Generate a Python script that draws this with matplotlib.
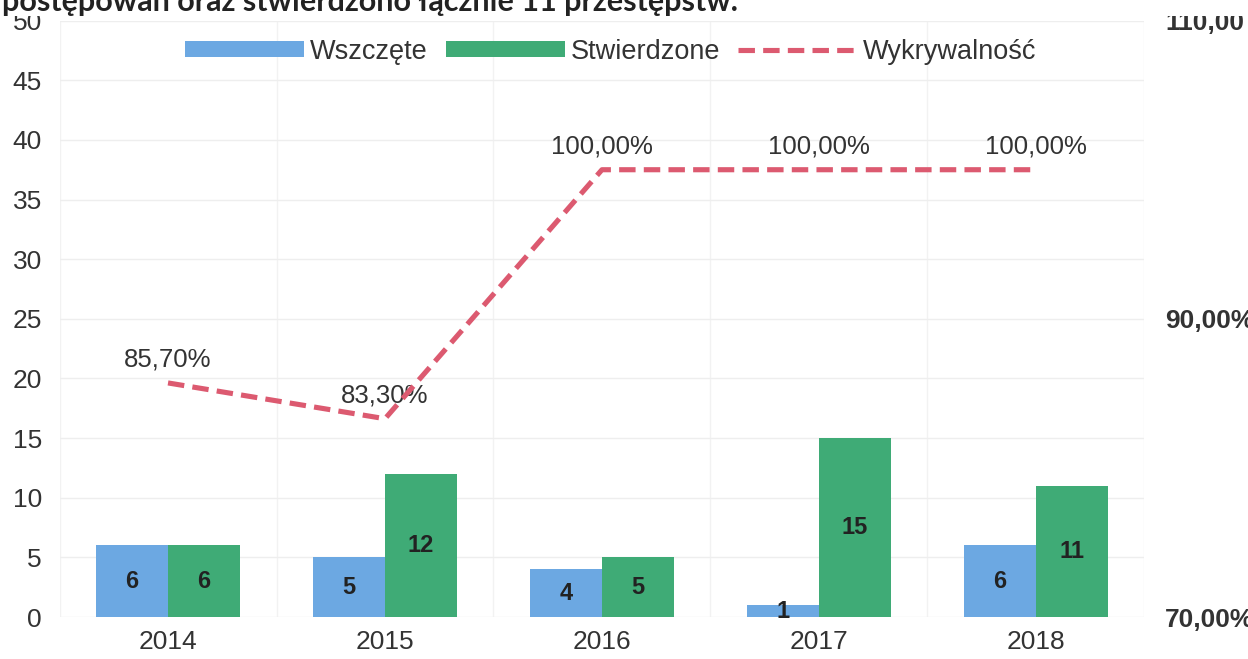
import numpy as np
import matplotlib.pyplot as plt
from matplotlib.patches import Rectangle

years = ['2014', '2015', '2016', '2017', '2018']
wszczete = [6, 5, 4, 1, 6]
stwierdzone = [6, 12, 5, 15, 11]
wykrywalnosc = [85.7, 83.3, 100.0, 100.0, 100.0]
wyk_labels = ['85,70%', '83,30%', '100,00%', '100,00%', '100,00%']
right_ticks = [70, 90, 110]
right_labels = ['70,00%', '90,00%', '110,00']
title_text = 'postępowań oraz stwierdzono łącznie 11 przestępstw.'

blue = '#6ca8e2'
green = '#3fab76'
red = '#dc5a70'
txt = '#333333'

plt.rcParams['font.family'] = ['Liberation Sans', 'DejaVu Sans']

fig = plt.figure(figsize=(12.48, 6.59), dpi=100)
ax = fig.add_axes([0.0477, 0.0637, 0.8693, 0.905])
x = np.arange(len(years))
w = 0.332

b1 = ax.bar(x - w / 2, wszczete, w, color=blue, label='Wszczęte', zorder=2)
b2 = ax.bar(x + w / 2, stwierdzone, w, color=green, label='Stwierdzone', zorder=2)
for bars, vals in ((b1, wszczete), (b2, stwierdzone)):
    for r, v in zip(bars, vals):
        ax.text(r.get_x() + r.get_width() / 2, v / 2, str(v), ha='center', va='center',
                fontsize=17, fontweight='bold', color='#222222', zorder=3)

ax.set_xlim(-0.5, len(years) - 0.5)
ax.set_ylim(0, 50)
ax.set_yticks(np.arange(0, 51, 5))
ax.set_xticks(x)
ax.set_xticklabels(years)
ax.tick_params(axis='both', length=0, labelsize=19, labelcolor=txt)
ax.tick_params(axis='y', pad=12.6)
ax.tick_params(axis='x', pad=9)
for s in ax.spines.values():
    s.set_visible(False)
ax.grid(axis='y', color='#eeeeee', linewidth=1, zorder=0)
for b in np.arange(-0.5, len(years), 1.0):
    ax.axvline(b, color='#f2f2f2', linewidth=1, zorder=0)

ax2 = ax.twinx()
ax2.set_ylim(70, 110)
ax2.set_yticks(right_ticks)
ax2.set_yticklabels(right_labels, fontweight='bold')
ax2.tick_params(axis='y', length=0, labelsize=19, labelcolor=txt, pad=14.8)
for s in ax2.spines.values():
    s.set_visible(False)
ln, = ax2.plot(x, wykrywalnosc, color=red, linewidth=3.7, dashes=(3.2, 1.6),
               label='Wykrywalność', zorder=4)
for xi, v, lab in zip(x, wykrywalnosc, wyk_labels):
    ax2.annotate(lab, (xi, v), xytext=(0, 17), textcoords='offset points',
                 ha='center', va='center', fontsize=18.5, color=txt)

ax.legend(handles=[b1, b2, ln], loc='center', bbox_to_anchor=(0.508, 0.948), ncol=3,
          frameon=False, fontsize=19.5, handlelength=4.4, handleheight=0.5,
          handletextpad=0.2, columnspacing=0.67, labelcolor=txt)

# top strip: cut-off sentence from the surrounding document
fig.patches.append(Rectangle((0, 1 - 16 / 659), 1, 16 / 659, transform=fig.transFigure,
                             facecolor='white', edgecolor='none', zorder=10))
fig.text(0.002, 1 - 11 / 659, title_text, fontsize=22, fontweight='bold',
         family=['Lato', 'DejaVu Sans'], color='#222222', va='baseline', zorder=11)

fig.savefig('out.png', dpi=100)
